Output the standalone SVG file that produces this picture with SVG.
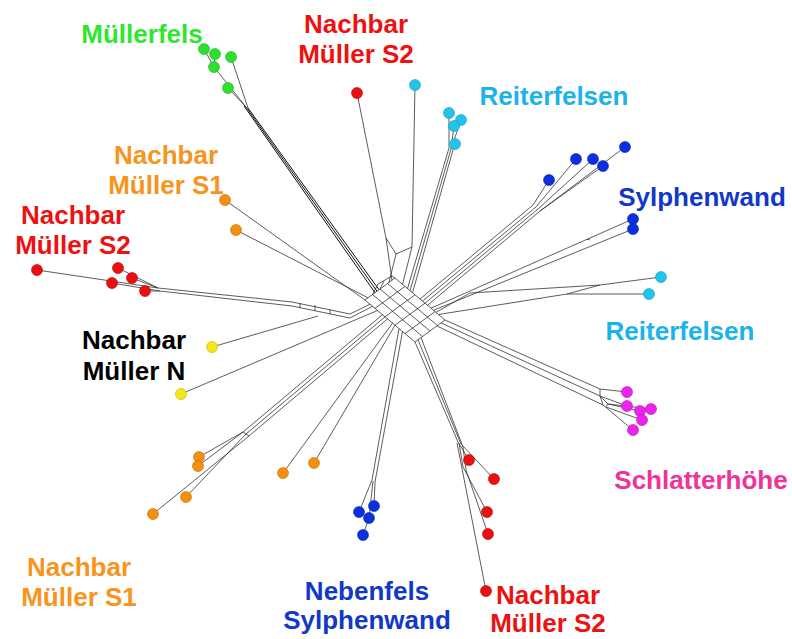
<svg xmlns="http://www.w3.org/2000/svg" width="792" height="639" viewBox="0 0 792 639">
<style>
.e{fill:none;stroke:#333;stroke-width:0.8}
.g{fill:none;stroke:#111;stroke-width:1}
.t{font-family:"Liberation Sans",Arial,sans-serif;font-weight:bold;font-size:26px;text-anchor:middle}
.dg{fill:#2ee02e;stroke:#22b022;stroke-width:0.6}
.dr{fill:#e81010;stroke:#b00000;stroke-width:0.6}
.dc{fill:#22c4ea;stroke:#1298c0;stroke-width:0.6}
.db{fill:#0a30e0;stroke:#0820a0;stroke-width:0.6}
.dm{fill:#ee22ee;stroke:#b010b0;stroke-width:0.6}
.do{fill:#f39010;stroke:#c07000;stroke-width:0.6}
.dy{fill:#f5e61a;stroke:#c0b000;stroke-width:0.6}
</style>
<rect width="792" height="639" fill="#fff"/>
<g id="connectors">
<!-- hub grid -->
<path class="e" d="M365,300L415,342M372.5,294.5L422.5,336.5M380,289L430,331M387.5,283.5L437.5,325.5M395,278L445,320"/>
<path class="e" d="M365,300L395,278M375,308.4L405,286.4M385,316.8L415,294.8M395,325.2L425,303.2M405,333.6L435,311.6M415,342L445,320"/>
<path class="e" d="M372.5,294.5L378,284L392,276L395,278M380,289L384,281"/>
<!-- green -->
<path class="g" d="M244,106L375,292.7M246,107L377,291.2M248,108L379,289.7"/>
<path class="e" d="M228,88L246,107M214,67L246,107M204,49L214,67M215,54L214,67M231,57L248,108"/>
<!-- red top -->
<path class="e" d="M357,93L386,238L392,280.2M386,238L396,254L412,247M396,254L389,282.4"/>
<!-- cyan top -->
<path class="e" d="M415,85L412,247L402.5,284.3"/>
<path class="e" d="M449,113L449,148M461,120L451,149M454,126L451,149M455,144L453,150M449,148L407.5,288.5M451,149L410,290.6M453,150L412.5,292.7"/>
<!-- sylph upper -->
<path class="e" d="M549,180L533,205M576,159L536,207M593,159L538,209M603,166L540,211M625,147L540,211M533,205L420,299M536,207L422.5,301.1M538,209L425,303.2M540,211L427.5,305.3"/>
<!-- sylph lower -->
<path class="e" d="M633,219L431,308.2M633,229L433.5,310.3M587,239L590,240"/>
<!-- cyan right -->
<path class="e" d="M661,277L600,285L470,293L436,312.4M649,294L567,294L438.5,314.5M567,294L600,285"/>
<!-- magenta -->
<path class="e" d="M445,320L600,389M441,322.9L600,396M437,326L603,405M600,389L600,396L603,405M600,396L608,404L606,407"/>
<path class="e" d="M627,392L600,389M627,406L600,396M640,411L608,404M651,409L608,404M642,420L606,407M633,430L603,405"/>
<!-- red bottom -->
<path class="e" d="M458,442L415,342M461,444L418,339.8M463,447L421,337.6M469,460L458,442M494,479L461,444M487,512L463,467L459,443M488,534L466,470L463,447M486,591L457,443"/>
<!-- blue bottom -->
<path class="e" d="M372,480L399,328.6M375,482L402.5,331.5M359,512L372,480M374,506L375,482M369,518L373,481M363,535L369,518"/>
<!-- orange bottom center -->
<path class="e" d="M283,473L392.5,323.1M314,463L395,325.2"/>
<!-- orange bottom left -->
<path class="e" d="M243,432L382.5,314.7M246,434L385,316.8M249,436L387.5,318.9M243,432L249,436M199,457L243,432M198,466L243,432M186,497L246,434M153,514L249,436"/>
<!-- yellow -->
<path class="e" d="M212,347L318,316M181,394L377.5,310.5"/>
<!-- red left -->
<path class="e" d="M158,288L292,302L350,314L370,304.2M160,291L292,306L350,318L372.5,306.3M300,303L300,307.7M315,305L315,311M330,309L330,314M37,270L158,288M118,268L158,288M132,278L158,288M112,283L160,291M145,291L160,291"/>
<!-- orange top -->
<path class="e" d="M225,200L365,300M236,230L368,297.8"/>
</g>
<g id="mullerfels">
<circle class="dg" cx="204" cy="49" r="5.5"/><circle class="dg" cx="215" cy="54" r="5.5"/><circle class="dg" cx="231" cy="57" r="5.5"/><circle class="dg" cx="214" cy="67" r="5.5"/><circle class="dg" cx="228" cy="88" r="5.5"/>
<text class="t" x="142" y="43" fill="#2ee62e">Müllerfels</text>
</g>
<g id="nachbar-s2-top">
<circle class="dr" cx="357" cy="93" r="5.5"/>
<text class="t" x="356" y="33" fill="#ee1111">Nachbar</text>
<text class="t" x="356" y="63" fill="#ee1111">Müller S2</text>
</g>
<g id="reiterfelsen-top">
<circle class="dc" cx="415" cy="85" r="5.5"/><circle class="dc" cx="449" cy="113" r="5.5"/><circle class="dc" cx="461" cy="120" r="5.5"/><circle class="dc" cx="454" cy="126" r="5.5"/><circle class="dc" cx="455" cy="144" r="5.5"/>
<text class="t" x="554" y="105" fill="#1ab4e8">Reiterfelsen</text>
</g>
<g id="sylphenwand">
<circle class="db" cx="549" cy="180" r="5.5"/><circle class="db" cx="576" cy="159" r="5.5"/><circle class="db" cx="593" cy="159" r="5.5"/><circle class="db" cx="603" cy="166" r="5.5"/><circle class="db" cx="625" cy="147" r="5.5"/><circle class="db" cx="633" cy="219" r="5.5"/><circle class="db" cx="633" cy="229" r="5.5"/>
<text class="t" x="702" y="206" fill="#1238c8">Sylphenwand</text>
</g>
<g id="reiterfelsen-right">
<circle class="dc" cx="661" cy="277" r="5.5"/><circle class="dc" cx="649" cy="294" r="5.5"/>
<text class="t" x="680" y="340" fill="#1ab4e8">Reiterfelsen</text>
</g>
<g id="schlatterhohe">
<circle class="dm" cx="627" cy="392" r="5.5"/><circle class="dm" cx="627" cy="406" r="5.5"/><circle class="dm" cx="640" cy="411" r="5.5"/><circle class="dm" cx="651" cy="409" r="5.5"/><circle class="dm" cx="642" cy="420" r="5.5"/><circle class="dm" cx="633" cy="430" r="5.5"/>
<text class="t" x="701" y="489" fill="#ee3399">Schlatterhöhe</text>
</g>
<g id="nachbar-s2-bottom">
<circle class="dr" cx="469" cy="460" r="5.5"/><circle class="dr" cx="494" cy="479" r="5.5"/><circle class="dr" cx="487" cy="512" r="5.5"/><circle class="dr" cx="488" cy="534" r="5.5"/><circle class="dr" cx="486" cy="591" r="5.5"/>
<text class="t" x="548" y="604" fill="#ee1111">Nachbar</text>
<text class="t" x="548" y="632" fill="#ee1111">Müller S2</text>
</g>
<g id="nebenfels">
<circle class="db" cx="359" cy="512" r="5.5"/><circle class="db" cx="374" cy="506" r="5.5"/><circle class="db" cx="369" cy="518" r="5.5"/><circle class="db" cx="363" cy="535" r="5.5"/>
<text class="t" x="367" y="600" fill="#1238c8">Nebenfels</text>
<text class="t" x="367" y="629" fill="#1238c8">Sylphenwand</text>
</g>
<g id="nachbar-s1-bottom">
<circle class="do" cx="283" cy="473" r="5.5"/><circle class="do" cx="314" cy="463" r="5.5"/><circle class="do" cx="199" cy="457" r="5.5"/><circle class="do" cx="198" cy="466" r="5.5"/><circle class="do" cx="186" cy="497" r="5.5"/><circle class="do" cx="153" cy="514" r="5.5"/>
<text class="t" x="79" y="576" fill="#f7941d">Nachbar</text>
<text class="t" x="79" y="606" fill="#f7941d">Müller S1</text>
</g>
<g id="nachbar-n">
<circle class="dy" cx="212" cy="347" r="5.5"/><circle class="dy" cx="181" cy="394" r="5.5"/>
<text class="t" x="134" y="349" fill="#000">Nachbar</text>
<text class="t" x="134" y="380" fill="#000">Müller N</text>
</g>
<g id="nachbar-s2-left">
<circle class="dr" cx="37" cy="270" r="5.5"/><circle class="dr" cx="118" cy="268" r="5.5"/><circle class="dr" cx="132" cy="278" r="5.5"/><circle class="dr" cx="112" cy="283" r="5.5"/><circle class="dr" cx="145" cy="291" r="5.5"/>
<text class="t" x="73" y="224" fill="#ee1111">Nachbar</text>
<text class="t" x="73" y="254" fill="#ee1111">Müller S2</text>
</g>
<g id="nachbar-s1-top">
<circle class="do" cx="225" cy="200" r="5.5"/><circle class="do" cx="236" cy="230" r="5.5"/>
<text class="t" x="166" y="164" fill="#f7941d">Nachbar</text>
<text class="t" x="166" y="194" fill="#f7941d">Müller S1</text>
</g>
</svg>
